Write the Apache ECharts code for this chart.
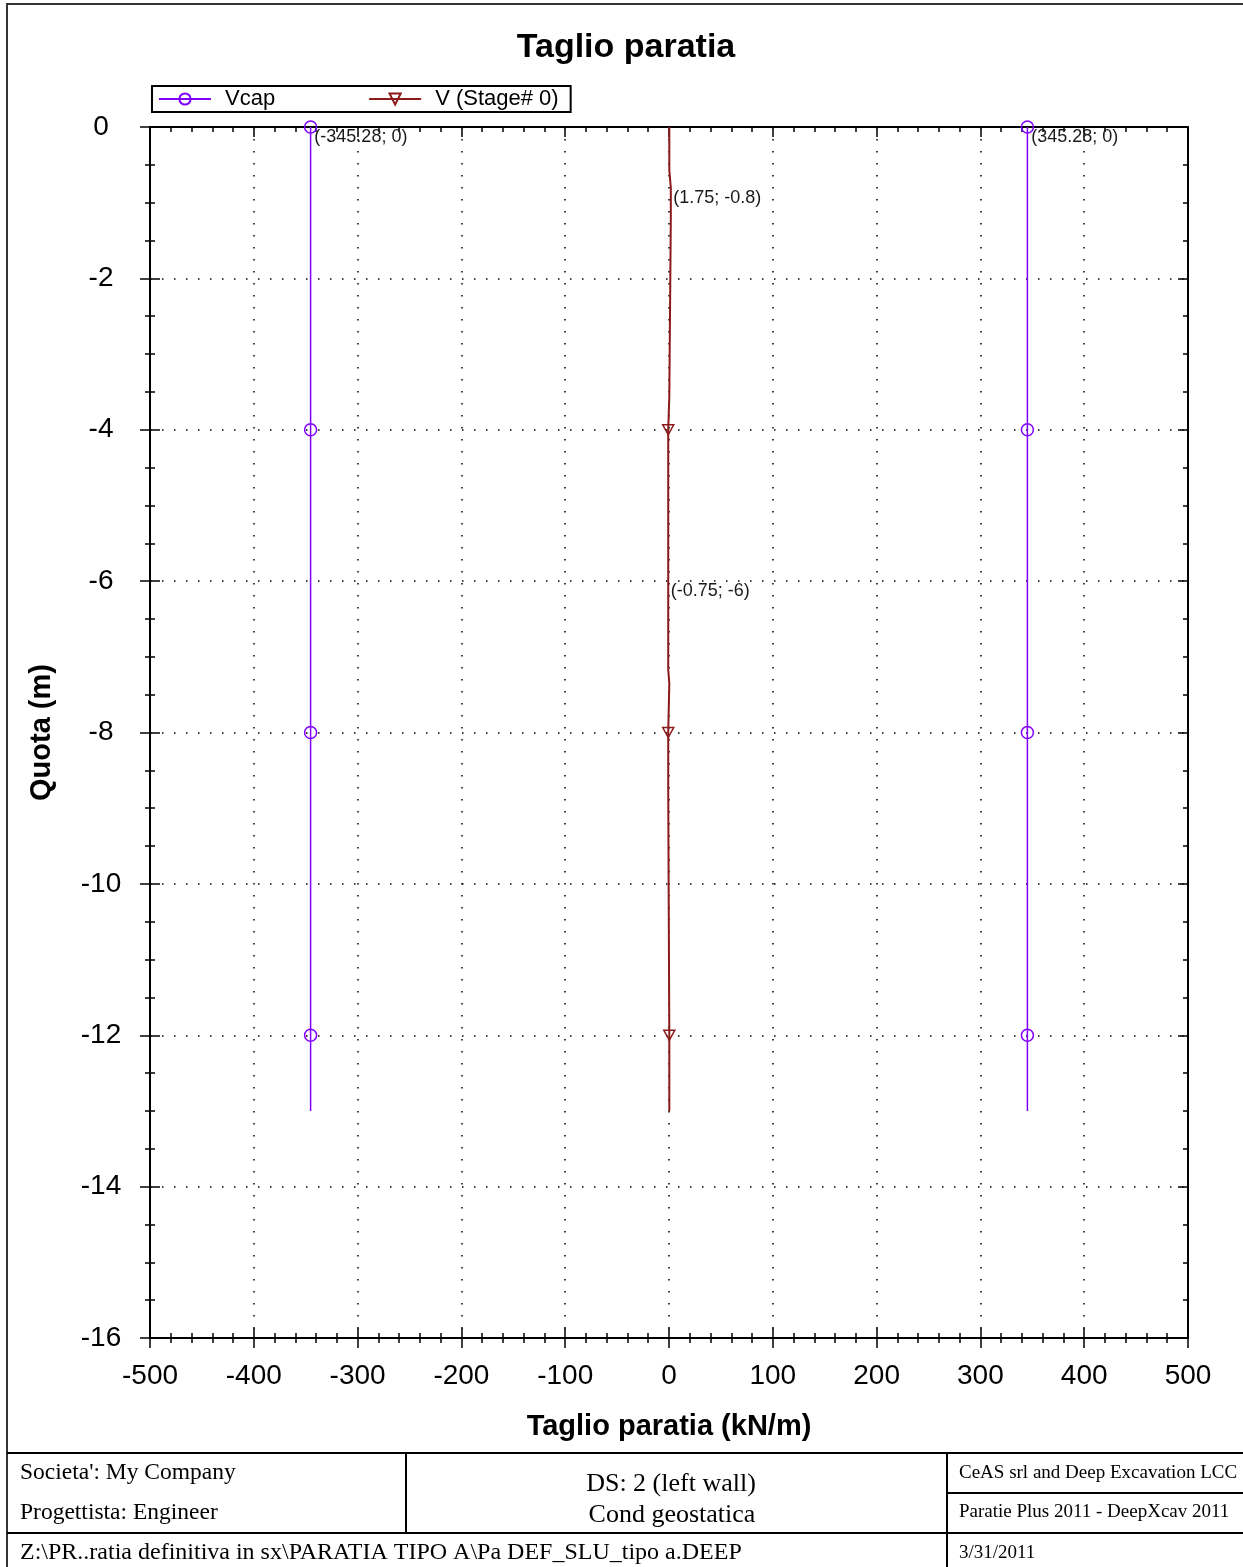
<!DOCTYPE html>
<html>
<head>
<meta charset="utf-8">
<script src="https://cdn.jsdelivr.net/npm/echarts@6/dist/echarts.min.js"></script>
<style>
html,body{margin:0;padding:0;background:#fff;}
#chart{width:1243px;height:1567px;}
</style>
</head>
<body>
<div id="chart"></div>
<script>
// ---- data ----
const vcapDepth = [0, -4, -8, -12, -13];
const vcapLeft = [-345.28, -345.28, -345.28, -345.28, -345.28];
const vcapRight = [345.28, 345.28, 345.28, 345.28, 345.28];
const vcapMarkerDepths = [0, -4, -8, -12];
const vcapLabelDepths = [0];

const vDepth = [0, -0.57, -0.57, -0.8, -1.2, -1.2, -3.56, -3.56, -4, -6, -7.17, -7.17, -7.35, -7.35, -8, -8.76, -8.76, -12, -13];
const vValue = [0.3, 0.3, 1.75, 1.75, 1.75, 0.3, 0.3, -0.75, -0.75, -0.75, -0.75, 0.3, 0.3, -0.75, -0.75, -0.75, 0.3, 0.3, 0.3];
const vMarkerDepths = [-4, -8, -12];
const vLabelDepths = [-0.8, -6];

const xTickMin = -500, xTickMax = 500, xTickStep = 100;
const yTickMin = -16, yTickMax = 0, yTickStep = 2;

const titleText = 'Taglio paratia';
const xName = 'Taglio paratia (kN/m)';
const yName = 'Quota (m)';
const seriesNames = ['Vcap', 'V (Stage# 0)'];

const footerLeft = ["Societa': My Company", 'Progettista: Engineer'];
const footerMid = ['DS: 2 (left wall)', 'Cond geostatica'];
const footerRight = ['CeAS srl and Deep Excavation LCC', 'Paratie Plus 2011 - DeepXcav 2011'];
const footerPath = 'Z:\\PR..ratia definitiva in sx\\PARATIA TIPO A\\Pa DEF_SLU_tipo a.DEEP';
const footerDate = '3/31/2011';

// ---- build ----
const VCAP_COLOR = '#8000ff';
const V_COLOR = '#8b1a1a';
const FONT = "'Liberation Sans', Arial, sans-serif";
const SERIF = "'Liberation Serif', 'Times New Roman', serif";
const triPath = 'path://M0,0 L10,0 L5,9 Z';

const labelStyle = {
  show: true, position: 'right', distance: 2, offset: [0, 10],
  fontFamily: FONT, fontSize: 18, color: '#1a1a1a',
  formatter: p => '(' + p.value[0] + '; ' + p.value[1] + ')'
};

function buildVcap(values) {
  return vcapDepth.map((d, i) => {
    const item = { value: [values[i], d] };
    if (!vcapMarkerDepths.includes(d)) {
      item.symbol = 'none';
    }
    if (vcapLabelDepths.includes(d)) {
      item.label = Object.assign({}, labelStyle, { distance: -3 });
    }
    return item;
  });
}

function buildV() {
  return vDepth.map((d, i) => {
    const item = { value: [vValue[i], d] };
    if (vMarkerDepths.includes(d)) {
      // default series symbol
    } else if (vLabelDepths.includes(d)) {
      item.symbol = 'circle';
      item.symbolSize = 1;
      item.itemStyle = { color: 'rgba(0,0,0,0)', borderWidth: 0 };
      item.label = labelStyle;
    } else {
      item.symbol = 'none';
    }
    return item;
  });
}

const axisLineStyle = { show: true, onZero: false, lineStyle: { color: '#000', width: 2 } };
const dotted = { show: true, lineStyle: { color: '#000', width: 1.5, type: [1.5, 10.5] } };

function xAxisDef(pos, inside, withLabels) {
  return {
    type: 'value', min: xTickMin, max: xTickMax, interval: xTickStep, position: pos,
    axisLine: axisLineStyle,
    axisTick: { show: true, inside: inside, length: 10, lineStyle: { color: '#000', width: 1.5 } },
    minorTick: { show: true, splitNumber: 5, length: 5, lineStyle: { color: '#000', width: 1.5 } },
    axisLabel: withLabels ? { show: true, fontFamily: FONT, fontSize: 28, color: '#000', margin: 24 } : { show: false },
    splitLine: withLabels ? dotted : { show: false },
    name: withLabels ? xName : '',
    nameLocation: 'middle', nameGap: 74,
    nameTextStyle: { fontFamily: FONT, fontSize: 29, fontWeight: 'bold', color: '#000' }
  };
}
function yAxisDef(pos, inside, withLabels) {
  return {
    type: 'value', min: yTickMin, max: yTickMax, interval: yTickStep, position: pos,
    axisLine: axisLineStyle,
    axisTick: { show: true, inside: inside, length: 10, lineStyle: { color: '#000', width: 1.5 } },
    minorTick: { show: true, splitNumber: 4, length: 5, lineStyle: { color: '#000', width: 1.5 } },
    axisLabel: withLabels ? { show: true, fontFamily: FONT, fontSize: 28, color: '#000', margin: 49, align: 'center' } : { show: false },
    splitLine: withLabels ? dotted : { show: false },
    name: withLabels ? yName : '',
    nameLocation: 'middle', nameGap: 94,
    nameTextStyle: { fontFamily: FONT, fontSize: 29, fontWeight: 'bold', color: '#000' }
  };
}

const vcapItemStyle = { color: 'rgba(255,255,255,0)', borderColor: VCAP_COLOR, borderWidth: 1.5 };
const vItemStyle = { color: 'rgba(255,255,255,0)', borderColor: V_COLOR, borderWidth: 1.5 };

const option = {
  backgroundColor: '#fff',
  animation: false,
  title: {
    text: titleText, left: 621, top: 26, textAlign: 'center',
    textStyle: { fontFamily: FONT, fontSize: 34, fontWeight: 'bold', color: '#000' }
  },
  legend: {
    left: 152, top: 86,
    padding: [2, 12, 2, 6],
    borderColor: '#000', borderWidth: 2,
    itemWidth: 52, itemHeight: 14, itemGap: 93,
    data: seriesNames,
    textStyle: { fontFamily: FONT, fontSize: 22, color: '#000', padding: [0, 0, 0, 9] }
  },
  grid: { left: 150, top: 127, width: 1038, height: 1211, containLabel: false },
  xAxis: [xAxisDef('bottom', false, true), xAxisDef('bottom', true, false), xAxisDef('top', true, false)],
  yAxis: [yAxisDef('left', false, true), yAxisDef('left', true, false), yAxisDef('right', true, false)],
  series: [
    {
      name: seriesNames[0], type: 'line', xAxisIndex: 0, yAxisIndex: 0,
      data: buildVcap(vcapLeft), showSymbol: true, symbol: 'circle', symbolSize: 12,
      lineStyle: { color: VCAP_COLOR, width: 1.5 },
      itemStyle: vcapItemStyle,
      z: 3
    },
    {
      name: seriesNames[0], type: 'line', xAxisIndex: 0, yAxisIndex: 0,
      data: buildVcap(vcapRight), showSymbol: true, symbol: 'circle', symbolSize: 12,
      lineStyle: { color: VCAP_COLOR, width: 1.5 },
      itemStyle: vcapItemStyle,
      z: 3
    },
    {
      name: seriesNames[1], type: 'line', xAxisIndex: 0, yAxisIndex: 0,
      data: buildV(), showSymbol: true, symbol: triPath, symbolSize: [11, 10],
      lineStyle: { color: V_COLOR, width: 2 },
      itemStyle: vItemStyle,
      z: 3
    }
  ],
  graphic: [
    { type: 'rect', shape: { x: 7, y: 4, width: 1260, height: 1600 }, style: { fill: 'none', stroke: '#333', lineWidth: 2 }, silent: true },
    { type: 'line', shape: { x1: 7, y1: 1453, x2: 1243, y2: 1453 }, style: { stroke: '#000', lineWidth: 2 } },
    { type: 'line', shape: { x1: 7, y1: 1533, x2: 1243, y2: 1533 }, style: { stroke: '#000', lineWidth: 2 } },
    { type: 'line', shape: { x1: 406, y1: 1453, x2: 406, y2: 1533 }, style: { stroke: '#000', lineWidth: 2 } },
    { type: 'line', shape: { x1: 947, y1: 1453, x2: 947, y2: 1567 }, style: { stroke: '#000', lineWidth: 2 } },
    { type: 'line', shape: { x1: 947, y1: 1493, x2: 1243, y2: 1493 }, style: { stroke: '#000', lineWidth: 2 } },
    { type: 'text', x: 20, y: 1473, style: { text: footerLeft[0], fontFamily: SERIF, fontSize: 23.5, fill: '#000', verticalAlign: 'middle' } },
    { type: 'text', x: 20, y: 1513, style: { text: footerLeft[1], fontFamily: SERIF, fontSize: 23.5, fill: '#000', verticalAlign: 'middle' } },
    { type: 'text', x: 671, y: 1484, style: { text: footerMid[0], fontFamily: SERIF, fontSize: 26, fill: '#000', align: 'center', verticalAlign: 'middle' } },
    { type: 'text', x: 672, y: 1515, style: { text: footerMid[1], fontFamily: SERIF, fontSize: 26, fill: '#000', align: 'center', verticalAlign: 'middle' } },
    { type: 'text', x: 959, y: 1473, style: { text: footerRight[0], fontFamily: SERIF, fontSize: 19, fill: '#000', verticalAlign: 'middle' } },
    { type: 'text', x: 959, y: 1512, style: { text: footerRight[1], fontFamily: SERIF, fontSize: 19, fill: '#000', verticalAlign: 'middle' } },
    { type: 'text', x: 20, y: 1553, style: { text: footerPath, fontFamily: SERIF, fontSize: 24, fill: '#000', verticalAlign: 'middle' } },
    { type: 'text', x: 959, y: 1553, style: { text: footerDate, fontFamily: SERIF, fontSize: 19, fill: '#000', verticalAlign: 'middle' } }
  ]
};

const chart = echarts.init(document.getElementById('chart'), null, { renderer: 'canvas' });
chart.setOption(option);
</script>
</body>
</html>
